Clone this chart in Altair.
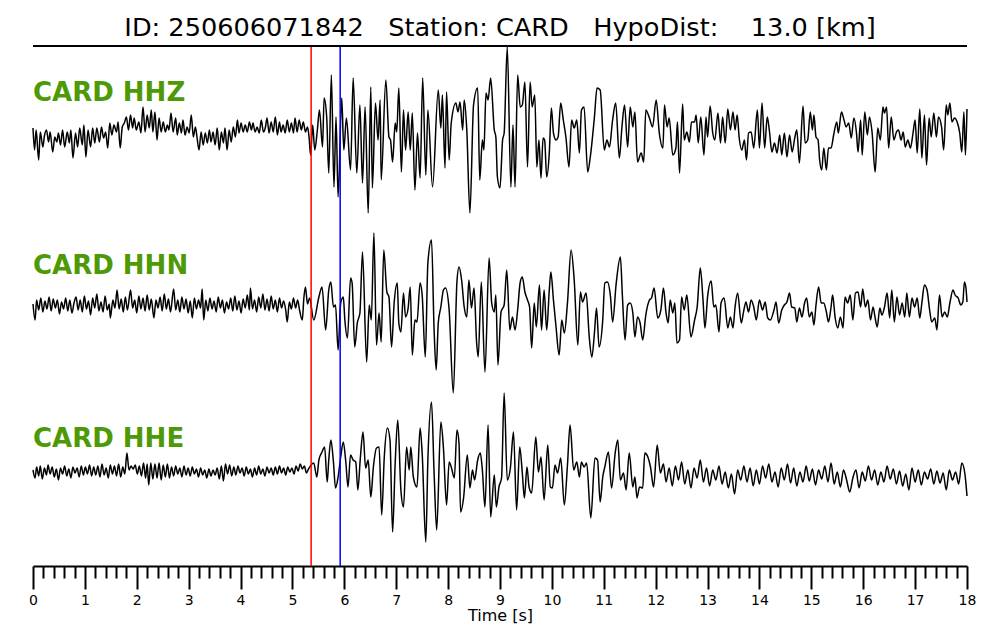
import altair as alt
import pandas as pd

# ---------------- data (time [s], relative amplitude) ----------------
HHZ_T = [0.00,0.03,0.06,0.11,0.14,0.19,0.22,0.26,0.30,0.33,0.38,0.42,0.46,0.49,0.53,0.57,0.61,0.66,0.70,0.73,
         0.77,0.82,0.86,0.90,0.95,0.98,1.02,1.06,1.11,1.15,1.19,1.23,1.28,1.32,1.36,1.40,1.44,1.48,1.52,1.56,
         1.61,1.64,1.68,1.72,1.76,1.80,1.84,1.88,1.92,1.95,1.99,2.04,2.08,2.12,2.16,2.20,2.24,2.28,2.31,2.35,
         2.39,2.43,2.47,2.51,2.55,2.59,2.62,2.66,2.70,2.75,2.78,2.82,2.86,2.89,2.93,2.97,3.01,3.05,3.09,3.13,
         3.16,3.20,3.24,3.28,3.32,3.36,3.40,3.43,3.47,3.51,3.55,3.59,3.63,3.67,3.70,3.74,3.78,3.82,3.86,3.90,
         3.94,3.97,4.01,4.05,4.09,4.13,4.17,4.21,4.24,4.28,4.32,4.36,4.40,4.44,4.48,4.51,4.55,4.59,4.63,4.67,
         4.71,4.75,4.78,4.82,4.86,4.90,4.94,4.98,5.02,5.05,5.09,5.13,5.17,5.21,5.25,5.29,5.32,5.35,5.39,5.43,
         5.48,5.52,5.58,5.61,5.66,5.70,5.75,5.80,5.84,5.88,5.95,5.99,6.04,6.12,6.17,6.24,6.30,6.35,6.40,6.46,
         6.51,6.54,6.60,6.65,6.69,6.71,6.80,6.86,6.89,6.93,6.98,7.01,7.05,7.10,7.14,7.18,7.23,7.27,7.31,7.36,
         7.41,7.46,7.51,7.57,7.61,7.70,7.81,7.86,7.89,7.94,7.97,8.02,8.06,8.15,8.19,8.23,8.28,8.31,8.36,8.42,
         8.49,8.57,8.61,8.66,8.69,8.73,8.77,8.82,8.89,8.92,8.95,9.00,9.05,9.08,9.14,9.21,9.25,9.29,9.34,9.39,
         9.43,9.48,9.53,9.58,9.62,9.67,9.71,9.75,9.79,9.83,9.86,9.90,9.95,9.99,10.03,10.08,10.12,10.17,10.22,10.27,
         10.33,10.38,10.43,10.48,10.53,10.57,10.62,10.69,10.74,10.82,10.87,10.93,11.01,11.06,11.11,11.17,11.23,11.30,11.35,11.40,
         11.46,11.51,11.56,11.60,11.65,11.72,11.77,11.81,11.88,11.94,12.01,12.07,12.14,12.17,12.22,12.26,12.33,12.39,12.42,12.46,
         12.52,12.55,12.60,12.65,12.69,12.75,12.78,12.82,12.87,12.93,12.97,13.00,13.05,13.10,13.14,13.20,13.25,13.29,13.34,13.39,
         13.44,13.49,13.53,13.57,13.61,13.66,13.71,13.75,13.79,13.84,13.89,13.96,14.00,14.05,14.10,14.15,14.19,14.24,14.29,14.34,
         14.39,14.43,14.48,14.53,14.58,14.63,14.68,14.72,14.77,14.84,14.88,14.93,14.98,15.02,15.05,15.09,15.13,15.16,15.20,15.24,
         15.29,15.33,15.38,15.43,15.49,15.52,15.58,15.63,15.67,15.72,15.77,15.82,15.87,15.90,15.95,15.98,16.03,16.08,16.12,16.17,
         16.23,16.28,16.33,16.38,16.41,16.45,16.49,16.54,16.59,16.64,16.68,16.73,16.77,16.81,16.86,16.91,16.96,17.00,17.04,17.09,
         17.13,17.18,17.22,17.27,17.31,17.36,17.41,17.45,17.51,17.55,17.60,17.63,17.67,17.71,17.76,17.81,17.86,17.90,17.94,17.97,
         18.00]
HHZ_A = [9,-13,7,-23,5,-10,1,7,-5,5,-15,0,-5,4,-8,7,-10,5,-6,7,
         -21,4,-10,9,-8,12,-20,7,-10,9,-6,9,-5,10,-1,5,-11,14,2,12,
         5,15,-11,10,14,20,7,22,9,19,7,15,4,30,5,22,9,27,5,25,
         -3,19,5,15,5,12,7,24,5,19,2,14,4,17,2,10,4,22,0,10,
         0,-13,5,-8,4,-6,7,-5,5,-8,9,-13,5,-6,9,-13,7,-5,10,0,
         17,4,14,5,12,5,15,7,14,5,10,4,17,5,10,19,4,15,5,20,
         2,15,5,12,4,17,5,14,4,19,5,17,7,15,5,10,0,-18,12,-13,
         7,27,-10,39,20,-36,62,-50,20,-60,39,-13,19,-33,59,-36,32,-46,30,-76,
         50,-51,34,-3,37,-43,57,0,-3,-25,14,5,49,-35,27,-13,25,-13,24,-53,
         4,-41,59,-38,27,-50,47,9,42,-31,45,-23,14,34,25,35,7,37,7,-76,
         32,49,-43,-3,-13,44,37,59,7,0,-40,-51,-3,4,90,-50,12,-50,62,30,
         32,55,-30,55,30,42,-30,-3,-41,-1,-3,-40,-16,29,4,-3,0,34,17,0,
         -30,17,9,17,-16,27,30,-35,-20,20,49,47,-13,-3,-10,17,34,-21,10,32,
         -10,30,10,25,-25,-16,-25,27,19,10,37,4,-11,32,10,19,-18,-11,15,-36,
         33,-3,5,-5,15,15,22,-6,20,-18,20,0,31,4,-3,24,-6,20,-6,28,
         7,25,7,22,-1,-13,-3,-23,4,5,-11,27,-11,34,-11,20,7,-15,-6,-16,
         2,-18,4,-20,2,-15,-1,7,-26,31,-6,-3,25,7,22,0,-3,-23,-33,-11,
         -33,-11,-11,2,15,4,25,17,10,14,-1,19,4,-15,17,-18,25,2,20,5,
         -35,9,-3,30,24,30,-11,20,-3,5,7,-3,5,-10,-3,-11,4,17,-16,28,
         -21,22,-28,19,0,24,0,20,10,-13,32,22,34,15,19,15,4,-15,25,-18,
         28]

HHN_T = [0.00,0.04,0.07,0.11,0.15,0.19,0.23,0.27,0.31,0.35,0.39,0.43,0.47,0.51,0.55,0.59,0.63,0.67,0.71,0.75,
         0.79,0.83,0.87,0.91,0.95,0.99,1.03,1.07,1.11,1.15,1.19,1.23,1.27,1.31,1.35,1.39,1.43,1.47,1.49,1.54,
         1.58,1.62,1.66,1.70,1.74,1.78,1.82,1.88,1.92,1.96,2.00,2.04,2.08,2.12,2.16,2.20,2.24,2.28,2.33,2.37,
         2.41,2.45,2.49,2.53,2.57,2.61,2.65,2.71,2.75,2.79,2.83,2.87,2.91,2.95,2.99,3.03,3.07,3.11,3.15,3.19,
         3.23,3.26,3.29,3.33,3.37,3.41,3.45,3.49,3.53,3.57,3.61,3.65,3.69,3.73,3.77,3.81,3.85,3.89,3.93,3.97,
         4.01,4.05,4.09,4.13,4.17,4.19,4.23,4.27,4.31,4.35,4.39,4.43,4.47,4.51,4.55,4.59,4.63,4.67,4.71,4.75,
         4.79,4.83,4.87,4.90,4.94,4.98,5.02,5.06,5.10,5.14,5.19,5.22,5.25,5.29,5.33,5.41,5.51,5.57,5.64,5.70,
         5.74,5.79,5.83,5.88,5.93,5.98,6.01,6.06,6.12,6.15,6.20,6.25,6.30,6.35,6.43,6.48,6.52,6.57,6.62,6.67,
         6.71,6.76,6.82,6.86,6.91,6.96,7.02,7.05,7.09,7.14,7.18,7.23,7.27,7.31,7.36,7.40,7.46,7.50,7.56,7.61,
         7.68,7.73,7.77,7.81,7.86,7.91,7.95,8.02,8.10,8.17,8.21,8.26,8.31,8.36,8.40,8.45,8.50,8.55,8.58,8.64,
         8.71,8.79,8.84,8.89,8.92,8.96,9.02,9.08,9.13,9.19,9.24,9.29,9.34,9.39,9.43,9.48,9.53,9.57,9.61,9.66,
         9.70,9.76,9.80,9.85,9.90,9.95,9.98,10.03,10.08,10.14,10.19,10.24,10.30,10.37,10.43,10.50,10.55,10.59,10.66,10.72,
         10.77,10.82,10.86,10.91,10.98,11.02,11.07,11.13,11.17,11.24,11.32,11.36,11.41,11.46,11.51,11.56,11.60,11.65,11.70,11.75,
         11.81,11.88,11.92,11.97,12.04,12.10,12.15,12.20,12.24,12.28,12.33,12.37,12.41,12.46,12.50,12.55,12.60,12.68,12.75,12.80,
         12.86,12.91,12.95,13.00,13.07,13.12,13.16,13.22,13.26,13.32,13.39,13.44,13.49,13.53,13.58,13.65,13.70,13.74,13.79,13.84,
         13.89,13.94,14.00,14.06,14.11,14.16,14.21,14.28,14.32,14.37,14.43,14.48,14.53,14.58,14.62,14.68,14.72,14.77,14.82,14.87,
         14.91,14.96,15.01,15.05,15.09,15.14,15.19,15.24,15.29,15.33,15.38,15.41,15.46,15.51,15.56,15.61,15.65,15.70,15.75,15.80,
         15.85,15.90,15.95,15.99,16.04,16.09,16.14,16.19,16.23,16.27,16.32,16.36,16.41,16.46,16.51,16.55,16.60,16.65,16.70,16.75,
         16.80,16.84,16.89,16.94,16.99,17.04,17.09,17.13,17.18,17.23,17.28,17.32,17.38,17.42,17.47,17.52,17.57,17.62,17.67,17.73,
         17.77,17.83,17.88,17.92,17.95,17.98,18.00]
HHN_A = [2,-14,6,-4,8,-6,5,-3,9,-5,7,-2,6,-8,4,-3,8,-5,6,-7,
         3,9,-4,6,-6,10,-3,5,-9,8,-2,12,-5,4,-6,10,-4,2,-12,6,
         -2,16,-3,7,-6,9,-4,16,-2,6,-7,10,-3,8,-5,11,-4,7,-12,6,
         -2,9,-5,12,-3,7,-6,17,-4,6,-6,9,-3,7,-7,5,-12,8,-3,6,
         -2,17,-14,6,-5,8,-3,5,-6,9,-2,6,-7,4,-3,8,-5,10,-4,5,
         -7,7,-2,11,-4,18,-3,6,-6,9,-2,12,-4,7,-5,10,-3,6,-6,8,
         -2,5,-4,-16,4,-3,8,-2,6,-5,-14,8,19,2,8,-14,9,19,-24,16,
         24,-1,1,-44,3,9,-14,-32,28,23,-41,-17,-7,54,-56,1,-14,73,-39,-7,
         -36,56,14,9,-41,3,23,-17,-26,13,-11,-2,19,-49,-14,-16,23,11,-51,43,
         66,-24,-64,-17,-1,16,18,-4,-87,24,39,26,-1,-11,26,-2,18,-37,-51,24,
         -66,48,3,-6,11,-59,-6,1,36,-24,-11,-24,-4,24,29,14,6,-1,-42,3,
         -21,21,-24,16,-24,16,34,6,-21,-49,-14,-27,3,56,26,-39,14,4,13,-31,
         -51,-27,-2,-41,-14,23,24,9,-16,23,49,9,-34,1,3,-7,-31,-11,-17,-34,
         -9,6,8,18,-12,-4,18,-7,-17,6,-7,3,-37,-34,9,-4,11,-31,-14,-1,
         38,8,-22,9,25,-1,1,-26,3,8,-22,-11,-22,-1,13,-17,-4,4,-6,6,
         -1,-14,6,-4,4,-12,-14,-4,4,-17,-4,1,4,13,-1,-2,-16,-2,-11,3,
         8,-11,-6,-19,1,19,3,3,-6,-16,-1,11,-12,-22,-11,-22,9,3,11,-14,
         13,14,-1,17,-1,6,-14,-1,-12,-21,-2,-9,-1,13,-12,16,-16,9,-9,3,
         -11,13,-11,8,-1,8,-12,3,21,16,-4,-16,-12,-24,11,-11,-6,-11,3,16,
         11,8,1,4,24,18,4]

HHE_T = [0.00,0.04,0.07,0.11,0.14,0.18,0.22,0.26,0.29,0.33,0.37,0.41,0.45,0.49,0.53,0.57,0.61,0.65,0.69,0.73,
         0.77,0.81,0.85,0.89,0.93,0.97,1.01,1.05,1.09,1.13,1.17,1.21,1.25,1.29,1.33,1.37,1.41,1.45,1.49,1.53,
         1.57,1.61,1.65,1.69,1.73,1.77,1.81,1.85,1.89,1.93,1.97,2.01,2.05,2.09,2.13,2.17,2.20,2.23,2.27,2.31,
         2.35,2.39,2.43,2.47,2.51,2.55,2.59,2.63,2.67,2.71,2.75,2.79,2.83,2.87,2.91,2.95,2.99,3.03,3.07,3.11,
         3.15,3.19,3.23,3.27,3.31,3.35,3.39,3.43,3.47,3.51,3.55,3.59,3.63,3.67,3.71,3.75,3.79,3.83,3.87,3.91,
         3.95,3.99,4.03,4.07,4.11,4.15,4.19,4.23,4.27,4.31,4.35,4.39,4.43,4.47,4.51,4.55,4.59,4.63,4.67,4.71,
         4.75,4.79,4.83,4.87,4.91,4.95,4.99,5.03,5.07,5.11,5.15,5.19,5.23,5.27,5.31,5.41,5.47,5.51,5.57,5.62,
         5.67,5.70,5.74,5.79,5.83,5.88,5.93,5.98,6.03,6.07,6.12,6.17,6.22,6.26,6.31,6.36,6.41,6.46,6.51,6.56,
         6.62,6.67,6.72,6.77,6.83,6.88,6.93,6.98,7.03,7.09,7.14,7.20,7.25,7.28,7.33,7.40,7.46,7.50,7.57,7.61,
         7.68,7.73,7.78,7.86,7.91,7.97,8.02,8.06,8.12,8.17,8.21,8.24,8.30,8.37,8.42,8.47,8.51,8.57,8.62,8.66,
         8.71,8.77,8.82,8.89,8.93,8.98,9.03,9.08,9.14,9.20,9.26,9.32,9.38,9.43,9.47,9.52,9.56,9.61,9.69,9.74,
         9.79,9.85,9.92,9.97,10.01,10.06,10.11,10.17,10.24,10.30,10.35,10.42,10.48,10.53,10.57,10.62,10.67,10.75,10.83,10.88,
         10.93,10.98,11.02,11.09,11.15,11.22,11.27,11.32,11.38,11.43,11.49,11.56,11.60,11.64,11.69,11.75,11.79,11.85,11.90,11.96,
         12.03,12.09,12.15,12.20,12.26,12.32,12.38,12.44,12.50,12.56,12.62,12.68,12.74,12.80,12.86,12.92,12.98,13.04,13.10,13.16,
         13.22,13.28,13.34,13.40,13.46,13.52,13.58,13.64,13.70,13.76,13.82,13.88,13.94,14.00,14.06,14.12,14.18,14.24,14.30,14.36,
         14.42,14.48,14.54,14.60,14.66,14.72,14.78,14.84,14.90,14.96,15.02,15.08,15.14,15.20,15.26,15.32,15.38,15.44,15.50,15.56,
         15.62,15.68,15.74,15.80,15.86,15.92,15.98,16.04,16.10,16.16,16.22,16.28,16.34,16.40,16.46,16.52,16.58,16.64,16.70,16.76,
         16.82,16.88,16.94,17.00,17.06,17.12,17.18,17.24,17.30,17.36,17.42,17.48,17.54,17.60,17.66,17.72,17.78,17.84,17.90,17.96,
         18.00]
HHE_A = [2,-6,5,-4,6,-7,4,-3,7,-2,5,-5,3,-8,4,-2,6,-4,3,-6,
         5,-1,4,-5,6,-3,5,-2,7,-4,5,-3,6,-5,8,-3,4,-6,7,-2,
         6,-4,8,-5,5,-2,19,2,6,3,7,-2,6,-4,9,-6,8,-13,9,-7,
         8,-6,9,-8,7,-5,8,-6,5,-4,6,-2,4,-5,6,-3,4,-4,5,-2,
         3,-5,4,-3,2,-6,3,-4,2,-3,4,-7,6,-9,8,-2,7,-4,5,-3,
         6,-1,4,-4,5,-2,3,-5,4,-3,6,-2,3,-4,5,-1,4,-3,5,-2,
         6,-1,4,-3,5,0,4,-2,6,1,8,3,6,-1,3,9,-5,12,20,25,
         -10,12,32,10,-16,-5,15,30,9,-15,17,12,10,-18,15,40,4,12,-25,5,
         24,25,-43,15,44,32,-60,9,52,-18,-35,25,2,25,-5,-15,44,19,-70,12,
         70,-1,-58,50,24,-33,10,5,-6,42,29,-40,-25,17,-16,2,-8,12,19,2,
         -35,47,-45,-3,-35,-15,-6,79,-8,4,40,-38,25,-1,-26,5,-15,-21,35,0,
         15,-28,27,-15,-16,7,-1,14,-33,7,47,2,10,-5,10,5,9,-46,14,12,
         -30,-5,5,20,-16,19,32,-8,-1,-18,19,-15,-5,-26,-15,-16,19,15,5,-15,
         27,-1,8,-10,4,-14,6,-8,10,-12,2,-16,4,-6,12,-10,4,-14,2,-8,
         6,-12,0,-16,-2,-22,2,-8,6,-10,4,-14,2,-12,6,-6,8,-10,0,-15,
         4,-8,8,-11,4,-14,0,-10,6,-9,3,-13,2,-7,6,-10,9,-12,0,-15,
         2,-8,-20,-6,2,-16,0,-9,6,-8,2,-13,0,-10,6,-7,3,-12,1,-14,
         -2,-18,4,-10,2,-13,0,-7,3,-12,1,-11,-1,-18,2,-8,0,-12,9,-2,
         -24]

CHANNELS = ["HHZ", "HHN", "HHE"]
LABELS = ["CARD HHZ", "CARD HHN", "CARD HHE"]
PICK_T = [5.36, 5.92]
PICK_COLOR = ["#ff0000", "#0000ff"]
TICKS = [round(i * 0.2, 1) for i in range(91)]
TITLE = "ID: 250606071842\u00a0\u00a0\u00a0Station: CARD\u00a0\u00a0\u00a0HypoDist:\u00a0\u00a0\u00a0\u00a013.0 [km]"

# ---------------- layout ----------------
W, H = 934, 520
PANEL = H / 3.0
CENTERS = [-91, -260, -426]          # trace baselines (y units, top = 0)
LABEL_Y = [-(k * PANEL + 54.7) for k in range(3)]

rows = []
for name, ts, amps, c in zip(CHANNELS, [HHZ_T, HHN_T, HHE_T], [HHZ_A, HHN_A, HHE_A], CENTERS):
    for t, a in zip(ts, amps):
        rows.append({"trace": name, "t": t, "y": c + a})
df = pd.DataFrame(rows)
lab = pd.DataFrame({"label": LABELS, "t": [0.0] * 3, "y": LABEL_Y})
picks = pd.DataFrame({"t": PICK_T, "c": PICK_COLOR})

xscale = alt.Scale(domain=[0, 18], nice=False, zero=False)
yscale = alt.Scale(domain=[-H, 0], nice=False, zero=False)

xaxis = alt.Axis(
    values=TICKS,
    tickCount=len(TICKS),
    title="Time [s]",
    labelExpr="datum.value % 1 === 0 ? format(datum.value, 'd') : ''",
    labelOverlap=False,
    labelFlush=False,
    labelFont="DejaVu Sans",
    labelFontSize=14,
    labelColor="black",
    labelPadding=4,
    tickSize={"condition": {"test": "datum.value % 1 === 0", "value": 23}, "value": 12},
    tickWidth=2,
    tickColor="black",
    domainColor="black",
    domainWidth=2,
    grid=False,
    titleFont="DejaVu Sans",
    titleFontSize=16,
    titleFontWeight="normal",
    titleColor="black",
    titlePadding=0,
)

traces = alt.Chart(df).mark_line(
    color="black", strokeWidth=1.5, strokeJoin="round", interpolate="monotone"
).encode(
    x=alt.X("t:Q", scale=xscale, axis=xaxis),
    y=alt.Y("y:Q", scale=yscale, axis=None),
    detail="trace:N",
)

pick_rules = alt.Chart(picks).mark_rule(strokeWidth=1.5).encode(
    x=alt.X("t:Q", scale=xscale),
    color=alt.Color("c:N", scale=None),
)

top_line = alt.Chart(picks).mark_rule(color="black", strokeWidth=2).encode(
    x=alt.value(0), x2=alt.value(W), y=alt.value(0)
)

labels = alt.Chart(lab).mark_text(
    align="left", baseline="alphabetic", font="DejaVu Sans", fontSize=26,
    fontWeight="bold", color="#4e9a06"
).encode(
    x=alt.X("t:Q", scale=xscale),
    y=alt.Y("y:Q", scale=yscale),
    text="label:N",
)

chart = alt.layer(traces, pick_rules, top_line, labels).properties(
    width=W,
    height=H,
    title=alt.TitleParams(
        text=TITLE, font="DejaVu Sans", fontSize=25.6, fontWeight="normal",
        color="black", anchor="middle", offset=3
    ),
    autosize=alt.AutoSizeParams(type="none"),
    padding={"left": 25, "top": 38, "right": 25, "bottom": 66},
).configure(background="white", view=alt.ViewConfig(stroke=None))

chart.save("out.html", embed_options={"renderer": "svg", "actions": False})
